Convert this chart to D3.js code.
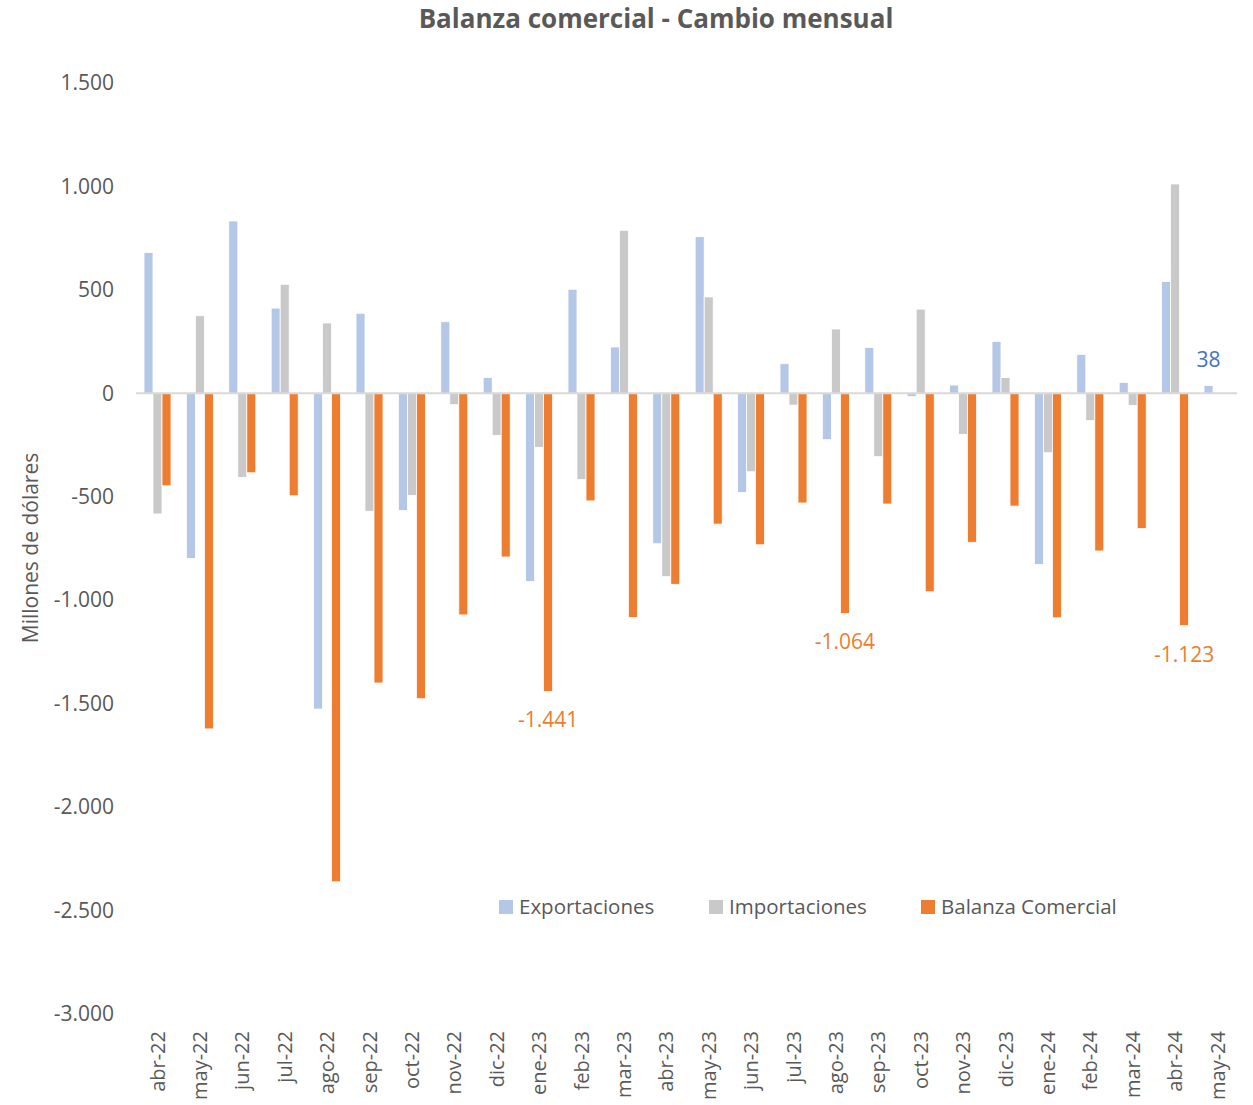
<!DOCTYPE html>
<html>
<head>
<meta charset="utf-8">
<script src="https://cdn.jsdelivr.net/npm/d3@7"></script>
<style>
  body { margin: 0; background: #fff; }
  svg { display: block; }
  text { font-family: "Open Sans", "Noto Sans", sans-serif; fill: #595959; }
</style>
</head>
<body>
<script>
const categories = ["abr-22","may-22","jun-22","jul-22","ago-22","sep-22","oct-22","nov-22","dic-22","ene-23","feb-23","mar-23","abr-23","may-23","jun-23","jul-23","ago-23","sep-23","oct-23","nov-23","dic-23","ene-24","feb-24","mar-24","abr-24","may-24"];
const exportaciones = [680, -798, 833, 412, -1526, 387, -566, 346, 77, -909, 503, 224, -727, 757, -479, 143, -224, 222, -16, 40, 251, -827, 188, 53, 540, 38];
const importaciones = [-583, 375, -406, 527, 340, -570, -493, -55, -203, -261, -417, 788, -886, 466, -379, -57, 311, -306, 407, -198, 76, -287, -132, -58, 1012, null];
const balanza = [-447, -1622, -384, -495, -2361, -1400, -1476, -1071, -791, -1441, -520, -1083, -923, -632, -732, -530, -1064, -535, -959, -720, -545, -1085, -762, -653, -1123, null];
const yTicks = [1500, 1000, 500, 0, -500, -1000, -1500, -2000, -2500, -3000];
const seriesNames = ["Exportaciones", "Importaciones", "Balanza Comercial"];
const seriesColors = ["#b4c7e7", "#c9c9c9", "#ed7d31"];
const labelColors = ["#4472c4", "#a5a5a5", "#ed7d31"];
// data labels shown: [seriesIndex, categoryIndex]
const shownLabels = [[2, 9], [2, 16], [2, 24], [0, 25]];

const W = 1253, H = 1105;
const svg = d3.select("body").append("svg").attr("width", W).attr("height", H);

const loc = d3.formatLocale({decimal: ",", thousands: ".", grouping: [3], currency: ["$", ""], minus: "-"});
const fmt = loc.format(",d");

const x = d3.scaleBand().domain(categories).range([136.3, 1238.7]).paddingInner(0.363).paddingOuter(0.1815);
const xs = d3.scaleBand().domain([0, 1, 2]).range([0, x.bandwidth()]);
const y = d3.scaleLinear().domain([-3000, 1500]).range([1014, 83]);

const series = [exportaciones, importaciones, balanza];

// Title
svg.append("text").attr("x", 656).attr("y", 28).attr("text-anchor", "middle")
  .style("font-size", "26px").style("font-weight", "bold").text("Balanza comercial - Cambio mensual");

// Y axis labels
const yAxis = d3.axisLeft(y).tickValues(yTicks).tickFormat(fmt).tickSize(0).tickPadding(0);
const yg = svg.append("g").attr("transform", "translate(114,0)").call(yAxis);
yg.select(".domain").remove();
yg.selectAll("text").style("font-size", "21px").attr("fill", "#595959").style("font-family", "'Open Sans', sans-serif");

// Y title
svg.append("text").attr("transform", "translate(38,548) rotate(-90)").attr("text-anchor", "middle")
  .style("font-size", "21px").text("Millones de dólares");

// Bars
series.forEach((vals, si) => {
  svg.append("g").selectAll("rect").data(vals.map((v, i) => ({v, i})).filter(d => d.v !== null))
    .join("rect")
    .attr("x", d => x(categories[d.i]) + xs(si))
    .attr("width", xs.bandwidth())
    .attr("y", d => y(Math.max(0, d.v)))
    .attr("height", d => Math.abs(y(d.v) - y(0)))
    .attr("fill", seriesColors[si])
    .attr("stroke", "#fff").attr("stroke-width", 0.8);
});

// Zero line
svg.append("line").attr("x1", 136).attr("x2", 1237).attr("y1", y(0)).attr("y2", y(0))
  .attr("stroke", "#d9d9d9").attr("stroke-width", 2);

// X axis labels
const xAxis = d3.axisBottom(x).tickSize(0).tickPadding(0);
const xg = svg.append("g").attr("transform", "translate(0,1031)").call(xAxis);
xg.select(".domain").remove();
xg.selectAll("text")
  .attr("transform", "rotate(-90)")
  .attr("text-anchor", "end")
  .attr("x", 0).attr("y", 0).attr("dy", "0.35em")
  .attr("fill", "#595959")
  .style("font-size", "20px").style("font-family", "'Open Sans', sans-serif");

// Data labels
shownLabels.forEach(([si, ci]) => {
  const v = series[si][ci];
  const cx = x(categories[ci]) + xs(si) + xs.bandwidth() / 2;
  const ty = v < 0 ? y(v) + 36 : y(v) - 18;
  svg.append("text").attr("x", cx).attr("y", ty).attr("text-anchor", "middle")
    .style("font-size", "21px").style("fill", labelColors[si]).text(fmt(v));
});

// Legend
const legX = [499, 709, 921];
seriesNames.forEach((n, i) => {
  svg.append("rect").attr("x", legX[i]).attr("y", 900).attr("width", 14).attr("height", 14).attr("fill", seriesColors[i]);
  svg.append("text").attr("x", legX[i] + 20).attr("y", 914).style("font-size", "20.5px").text(n);
});
</script>
</body>
</html>
